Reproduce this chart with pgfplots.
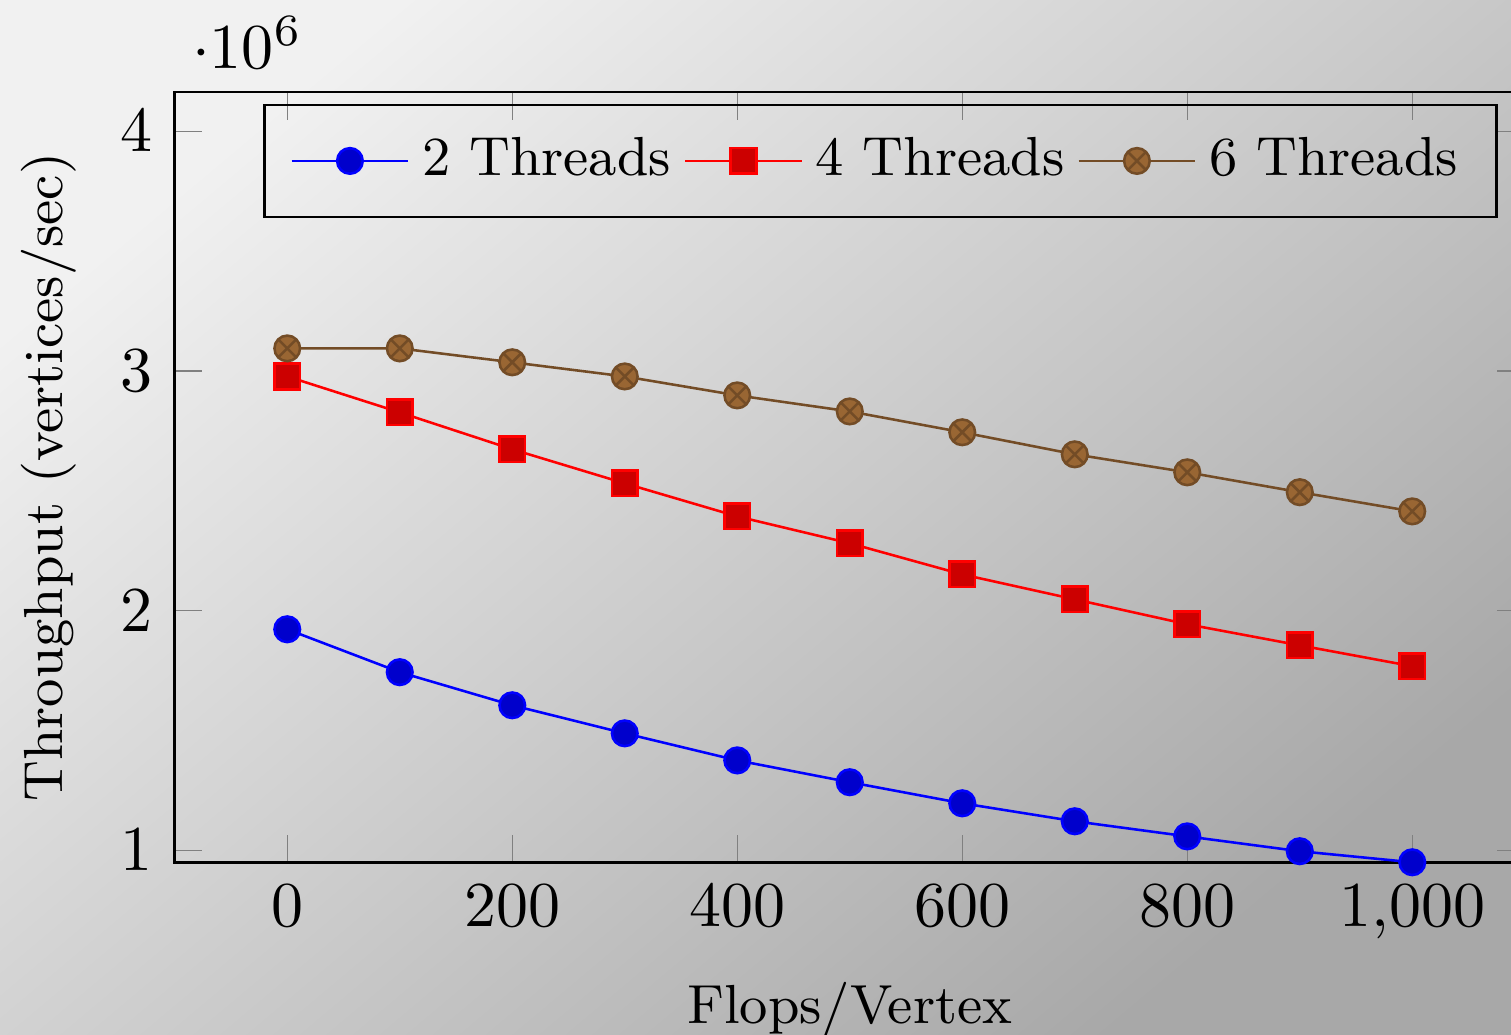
\documentclass[border=0pt]{standalone}
\usepackage{pgfplots}
\pgfplotsset{compat=1.18}

\definecolor{bglight}{HTML}{F1F1F1}
\definecolor{bgdark}{HTML}{A8A8A8}

\newcommand{\labfont}{\fontsize{8.6}{10.4}\selectfont}

\begin{document}
\begin{tikzpicture}
% cropped frame, as in the screenshot
\useasboundingbox (-27.3pt,-26.9pt) rectangle (208.75pt,134.7pt);
\clip (-27.3pt,-26.9pt) rectangle (208.75pt,134.7pt);
\shade[top color=bglight, bottom color=bgdark, shading angle=40]
  (-27.3pt,-26.9pt) rectangle (208.75pt,134.7pt);

\begin{axis}[
  scale only axis,
  width=210.9pt, height=120.3pt,
  xmin=-100, xmax=1100,
  ymin=950000, ymax=4163000,
  xtick={0,200,...,1000},
  ytick={1000000,2000000,3000000,4000000},
  xlabel={Flops/Vertex},
  ylabel={Throughput (vertices/sec)},
  label style={font=\labfont},
  legend style={font=\labfont, fill=none, inner ysep=3pt, inner xsep=4pt,
    at={(0.98,0.985)}, anchor=north east},
  legend columns=-1,
  legend image code/.code={
    \draw[mark repeat=2, mark phase=2]
      plot coordinates {(0cm,0cm) (0.32cm,0cm) (0.64cm,0cm)};},
  every y tick scale label/.style={at={(rel axis cs:0,1)}, anchor=south west,
    xshift=2.5pt, yshift=3.5pt, inner sep=0pt},
]
\addplot coordinates {
  (0,1922000) (100,1743000) (200,1605000) (300,1488000) (400,1375000)
  (500,1284000) (600,1196000) (700,1121000) (800,1058000) (900,996000)
  (1000,950000)
};
\addlegendentry{2 Threads}

\addplot coordinates {
  (0,2977000) (100,2827000) (200,2673000) (300,2531000) (400,2393000)
  (500,2281000) (600,2151000) (700,2047000) (800,1943000) (900,1855000)
  (1000,1768000)
};
\addlegendentry{4 Threads}

\addplot coordinates {
  (0,3094000) (100,3094000) (200,3036000) (300,2977000) (400,2898000)
  (500,2831000) (600,2744000) (700,2652000) (800,2577000) (900,2494000)
  (1000,2414000)
};
\addlegendentry{6 Threads}
\end{axis}
\end{tikzpicture}
\end{document}
